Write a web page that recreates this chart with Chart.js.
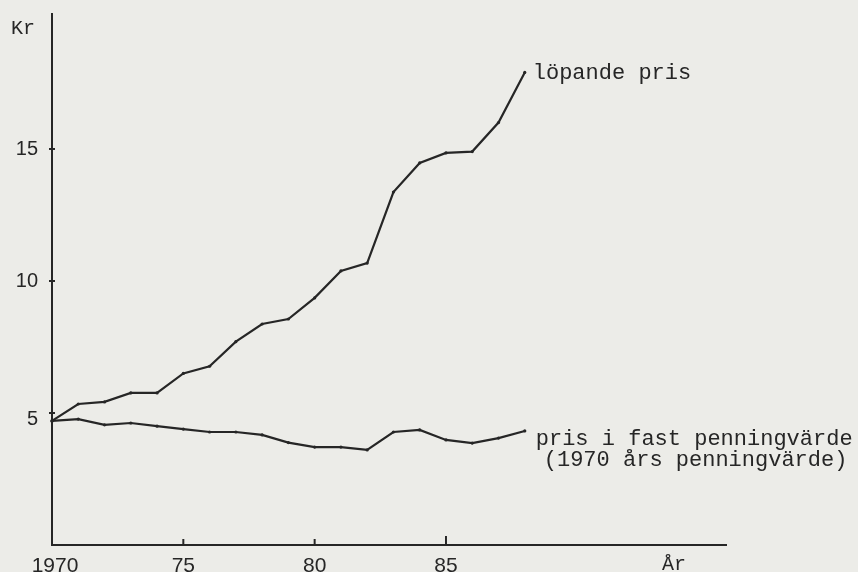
<!DOCTYPE html>
<html>
<head>
<meta charset="utf-8">
<script src="https://cdn.jsdelivr.net/npm/chart.js@4.4.1/dist/chart.umd.min.js"></script>
<style>
  html, body { margin: 0; padding: 0; background: #ecece8; }
  #wrap { width: 858px; height: 572px; }
</style>
</head>
<body>
<div id="wrap"><canvas id="chart" width="858" height="572"></canvas></div>
<script>
const years = [1970, 1971, 1972, 1973, 1974, 1975, 1976, 1977, 1978, 1979,
  1980, 1981, 1982, 1983, 1984, 1985, 1986, 1987, 1988];
const lopandePris = [4.7, 5.34, 5.42, 5.76, 5.76, 6.5, 6.77, 7.7, 8.37, 8.56,
  9.36, 10.38, 10.68, 13.37, 14.47, 14.85, 14.9, 16.0, 17.9];
const fastPris = [4.7, 4.77, 4.55, 4.62, 4.5, 4.39, 4.28, 4.28, 4.17, 3.88,
  3.71, 3.71, 3.6, 4.28, 4.36, 3.98, 3.86, 4.05, 4.32];

const xTicks = [1970, 1975, 1980, 1985];
const xTickLabels = ["1970", "75", "80", "85"];
const yTicks = [5, 10, 15];
const yTickLabels = ["5", "10", "15"];

const INK = "#262626";
const MONO = "'Liberation Mono', 'DejaVu Sans Mono', monospace";
const SANS = "'Liberation Sans', 'DejaVu Sans', sans-serif";

// axes, ticks and text drawn in the old typewriter style
const axesPlugin = {
  id: "axesPlugin",
  afterDatasetsDraw(chart) {
    const { ctx, chartArea: a, scales: { x, y } } = chart;
    const x0 = x.getPixelForValue(x.min);
    const y0 = y.getPixelForValue(0);
    ctx.save();
    ctx.strokeStyle = INK;
    ctx.fillStyle = INK;
    ctx.lineWidth = 2;

    ctx.beginPath();
    ctx.moveTo(x0, a.top);
    ctx.lineTo(x0, y0);
    ctx.lineTo(a.right, y0);
    ctx.stroke();

    // y ticks
    ctx.font = "20px " + SANS;
    ctx.textAlign = "right";
    ctx.textBaseline = "middle";
    yTicks.forEach((v, i) => {
      const py = y.getPixelForValue(v);
      ctx.beginPath();
      ctx.moveTo(x0 - 3, py);
      ctx.lineTo(x0 + 3, py);
      ctx.stroke();
      ctx.fillText(yTickLabels[i], x0 - 14, py + (v === 5 ? 6 : 1));
    });

    // x ticks
    ctx.font = "21px " + SANS;
    ctx.textAlign = "center";
    ctx.textBaseline = "top";
    xTicks.forEach((v, i) => {
      const px = x.getPixelForValue(v);
      if (i > 0) {
        ctx.beginPath();
        ctx.moveTo(px, y0);
        ctx.lineTo(px, y0 - (v === 1985 ? 9 : 6));
        ctx.stroke();
      }
      ctx.fillText(xTickLabels[i], px + (i === 0 ? 3 : 0), y0 + 11);
    });

    ctx.font = "20px " + MONO;
    ctx.textAlign = "left";
    ctx.textBaseline = "alphabetic";
    ctx.fillText("Kr", 11, 34);
    ctx.fillText("År", 662, 570);

    // series labels next to the last points
    const last = years.length - 1;
    const lx = x.getPixelForValue(years[last]);
    const ly1 = y.getPixelForValue(lopandePris[last]);
    const ly2 = y.getPixelForValue(fastPris[last]);
    ctx.font = "22px " + MONO;
    ctx.fillText("löpande pris", lx + 8, ly1 + 7);
    ctx.fillText("pris i fast penningvärde", lx + 11, ly2 + 14);
    ctx.fillText("(1970 års penningvärde)", lx + 19, ly2 + 35);
    ctx.restore();
  }
};

new Chart(document.getElementById("chart"), {
  type: "line",
  data: {
    labels: years,
    datasets: [
      { label: "löpande pris", data: years.map((yr, i) => ({ x: yr, y: lopandePris[i] })) },
      { label: "pris i fast penningvärde", data: years.map((yr, i) => ({ x: yr, y: fastPris[i] })) }
    ]
  },
  options: {
    responsive: false,
    animation: false,
    layout: { padding: { left: 52, top: 13, right: 131, bottom: 27 } },
    elements: {
      line: { borderColor: INK, borderWidth: 2.2, tension: 0 },
      point: { radius: 1.6, backgroundColor: INK, borderColor: INK, borderWidth: 0 }
    },
    datasets: { line: { clip: false } },
    scales: {
      x: { type: "linear", min: 1970, max: 1995.7, display: false },
      y: { min: 0, max: 20.15, display: false }
    },
    plugins: { legend: { display: false }, tooltip: { enabled: false } }
  },
  plugins: [axesPlugin]
});
</script>
</body>
</html>
